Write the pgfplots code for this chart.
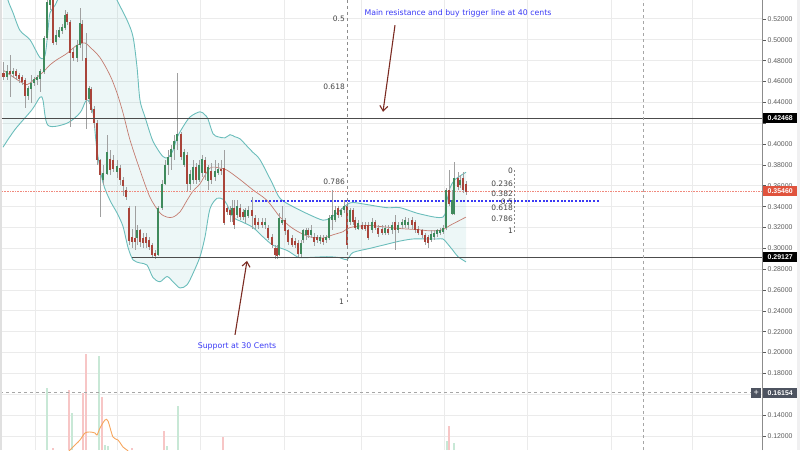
\documentclass[border=0pt]{standalone}
\usepackage{fontspec}
\setmainfont{DejaVu Sans}
\newfontfamily\arialf{Liberation Sans}
\usepackage{pgfplots}
\usepackage{pgfplotstable}
\pgfplotsset{compat=1.18}
\usepgfplotslibrary{fillbetween}
\usetikzlibrary{arrows.meta,decorations.markings}

\definecolor{upc}{HTML}{3F8A5C}
\definecolor{dnc}{HTML}{A9443A}
\definecolor{wick}{HTML}{A0A0A0}
\definecolor{band}{HTML}{6BBDBB}
\definecolor{ma}{HTML}{C47C70}
\definecolor{gridc}{HTML}{EBEBEB}
\definecolor{annot}{HTML}{3A3AF5}
\definecolor{arrowc}{HTML}{7B2B22}
\definecolor{volup}{HTML}{C8E8D6}
\definecolor{voldn}{HTML}{F7C6C6}
\definecolor{volma}{HTML}{F6A65E}
\definecolor{pricered}{HTML}{E0533D}
\definecolor{pricedot}{HTML}{F08A7E}
\definecolor{tickc}{HTML}{5A5A5A}
\definecolor{crossc}{HTML}{4D5360}
\definecolor{fibc}{HTML}{444444}

% candles: time (chart px), open, high, low, close
\pgfplotstableread{
x o h l c
3.5 .468 .479 .461 .464
7 .464 .476 .461 .470
10 .470 .485 .445 .467
13 .467 .473 .463 .470
16 .470 .472 .461 .465
19 .466 .468 .459 .462
22 .464 .466 .457 .460
25 .461 .463 .435 .446
28 .446 .456 .442 .454
31 .453 .466 .439 .459
34 .459 .464 .456 .462
37 .461 .466 .457 .464
40 .462 .472 .450 .470
44 .469 .504 .467 .502
47 .502 .543 .500 .536
50 .533 .548 .529 .538
53 .538 .546 .495 .497
56 .498 .509 .495 .505
59 .503 .512 .502 .509
62 .508 .515 .506 .512
65 .511 .529 .509 .524
67 .525 .527 .514 .517
70 .517 .519 .416 .487
73 .488 .492 .480 .483
77 .483 .500 .479 .495
80 .495 .531 .492 .516
82 .515 .519 .480 .497
86 .483 .507 .414 .442
89 .443 .456 .438 .454
91 .453 .455 .430 .433
94 .434 .437 .415 .420
97 .420 .423 .380 .385
100 .385 .386 .330 .370
103 .366 .380 .361 .372
107 .371 .409 .370 .392
110 .386 .394 .370 .375
113 .385 .390 .373 .376
117 .373 .385 .367 .379
120 .377 .380 .361 .366
123 .366 .368 .350 .360
126 .356 .359 .346 .349
129 .339 .341 .303 .307
132 .311 .319 .300 .306
135 .310 .341 .298 .306
137 .310 .322 .303 .318
140 .318 .319 .301 .306
143 .310 .315 .300 .305
146 .311 .315 .300 .305
149 .308 .311 .298 .301
152 .303 .305 .292 .294
155 .296 .298 .290 .293
158 .294 .341 .293 .339
162 .339 .366 .337 .362
165 .362 .385 .361 .380
168 .380 .394 .370 .388
171 .388 .399 .375 .395
174 .395 .409 .385 .403
177 .403 .468 .394 .410
181 .410 .412 .385 .388
184 .380 .395 .378 .392
187 .390 .392 .355 .362
190 .362 .375 .356 .371
193 .366 .385 .362 .378
196 .378 .382 .362 .366
199 .366 .385 .364 .380
202 .372 .390 .368 .386
205 .385 .388 .366 .372
208 .365 .380 .356 .378
211 .374 .382 .362 .366
215 .368 .385 .365 .374
218 .372 .382 .370 .376
221 .376 .385 .370 .375
224 .377 .394 .322 .324
227 .339 .341 .332 .335
230 .337 .341 .325 .332
232 .332 .346 .325 .339
234 .339 .346 .319 .322
237 .332 .346 .329 .341
240 .339 .343 .327 .330
243 .335 .338 .327 .330
245 .330 .339 .324 .337
248 .331 .341 .329 .337
252 .337 .349 .319 .331
255 .329 .332 .319 .322
258 .325 .329 .319 .322
262 .325 .329 .320 .322
265 .322 .329 .319 .325
268 .320 .322 .308 .310
272 .311 .314 .300 .303
275 .300 .303 .290 .294
277 .300 .303 .290 .293
279 .294 .334 .293 .329
282 .324 .341 .322 .327
285 .327 .329 .313 .317
288 .318 .319 .303 .306
292 .310 .313 .301 .303
295 .307 .310 .300 .303
298 .305 .308 .292 .295
301 .295 .308 .292 .305
303 .308 .319 .305 .318
306 .313 .320 .308 .318
308 .318 .320 .310 .313
311 .313 .322 .310 .318
314 .311 .315 .302 .306
317 .311 .313 .305 .308
320 .307 .313 .304 .311
323 .310 .313 .303 .306
326 .308 .313 .305 .311
329 .310 .332 .308 .329
332 .327 .356 .318 .332
335 .327 .341 .325 .337
338 .339 .341 .329 .332
341 .332 .339 .330 .337
344 .337 .346 .334 .341
347 .341 .344 .301 .303
350 .325 .339 .322 .337
353 .337 .339 .322 .325
355 .327 .330 .318 .320
358 .319 .327 .318 .324
362 .322 .325 .318 .319
365 .322 .325 .317 .319
368 .322 .325 .308 .310
372 .318 .329 .315 .325
375 .325 .327 .318 .320
378 .320 .322 .311 .314
382 .319 .322 .313 .315
385 .315 .322 .313 .320
388 .319 .322 .313 .315
392 .318 .325 .314 .322
395 .325 .332 .298 .318
398 .318 .325 .315 .322
402 .322 .328 .319 .325
405 .322 .330 .320 .327
408 .322 .329 .319 .325
412 .327 .330 .319 .322
415 .325 .327 .315 .318
418 .319 .321 .313 .315
422 .318 .319 .310 .313
425 .313 .315 .303 .306
428 .311 .313 .300 .305
431 .308 .318 .306 .314
434 .311 .318 .308 .315
437 .314 .319 .311 .318
440 .315 .320 .313 .318
443 .316 .322 .314 .320
446 .320 .358 .318 .356
449 .356 .375 .341 .343
452 .333 .356 .332 .346
454 .333 .383 .332 .367
458 .367 .373 .356 .359
460 .361 .370 .358 .366
463 .367 .373 .353 .356
466 .362 .365 .351 .354
}\candles

\pgfplotsset{
  candle/.style={draw=none, forget plot,
    error bars/y dir=both, error bars/y explicit, error bars/error mark=none},
}
\tikzset{
  fibl/.style={anchor=east, inner sep=0pt, text=fibc, font=\fontsize{7.5}{8}\selectfont},
  pbox/.style={anchor=west, inner sep=0pt, minimum width=35pt, minimum height=10pt,
    text=white, font=\arialf\bfseries\fontsize{6.9}{7}\selectfont},
  dotline/.style n args={3}{draw=none, postaction={decorate}, decoration={markings,
    mark=between positions 0 and 1 step #2 with {\fill[#1] (-#3,-#3) rectangle (#3,#3);}}},
}

\begin{document}
\begin{tikzpicture}
% volume panel (bars rise from the bottom edge)
\begin{axis}[at={(0pt,0pt)}, anchor=south west, scale only axis,
  width=762pt, height=450pt, xmin=0, xmax=762, ymin=0, ymax=450, hide axis]
\addplot[ycomb, draw=volup, line width=2.6pt, mark=none] coordinates
  {(47,62) (72,37) (99,94) (105,5) (108,4) (167,4) (178,44) (447,9) (454,7)};
\addplot[ycomb, draw=voldn, line width=2.6pt, mark=none] coordinates
  {(53,2) (69,60) (83,57) (86,96) (102,53) (132,2) (164,19) (223,13) (449,24)};
\addplot[volma, line width=0.9pt, smooth] coordinates
  {(66,-4) (70,0) (73,3) (80,10) (85,17) (90,18) (95,17) (97,15) (100,22) (105,30)
   (108,29) (113,13) (118,10) (123,3) (127,0) (131,-4)};
\end{axis}

\begin{axis}[at={(0pt,0pt)}, anchor=south west, scale only axis,
  width=762pt, height=450pt,
  xmin=0, xmax=762, ymin=0.1066, ymax=0.5382,
  clip mode=individual,
  axis line style={draw=none},
  xtick={35,117,200,284,361,444,527,611,692}, xticklabels={},
  xtick pos=bottom, major x tick style={draw=none},
  ytick={0.12,0.14,0.18,0.20,0.22,0.24,0.26,0.28,0.30,0.32,0.34,0.36,0.38,0.40,0.44,0.46,0.48,0.50,0.52},
  extra y ticks={0.16,0.42}, extra y tick labels={},
  ytick pos=right, yticklabel pos=right,
  tick align=outside, major tick length=3.5pt,
  major y tick style={tickc, line width=0.6pt},
  scaled y ticks=false,
  yticklabel style={font=\arialf\fontsize{6.9}{7}\selectfont, text=tickc, xshift=-1.5pt,
    /pgf/number format/.cd, fixed, fixed zerofill, precision=5, assume math mode=true},
  xmajorgrids, ymajorgrids,
  grid style={gridc, line width=1pt},
  extra tick style={grid style={gridc, line width=1pt}},
]
% Bollinger bands
\addplot[name path=up, band, line width=0.9pt, smooth] coordinates {
 (3,.557) (8,.538) (13,.526) (20,.509) (30,.500) (40,.483) (45,.485) (48,.509) (50,.526)
 (55,.533) (60,.543) (70,.557) (90,.562) (110,.553) (117,.538) (127,.519) (133,.503)
 (137,.474) (140,.442) (145,.426) (152,.405) (157,.396) (163,.388) (168,.387) (173,.394)
 (177,.406) (182,.415) (190,.426) (200,.431) (205,.428) (208,.424) (213,.410) (218,.407)
 (225,.406) (230,.409) (235,.407) (240,.405) (248,.397) (253,.392) (260,.385) (272,.363)
 (280,.348) (293,.340) (310,.332) (323,.327) (330,.329) (337,.334) (347,.342) (353,.344)
 (367,.342) (387,.339) (400,.339) (420,.333) (443,.330) (447,.346) (450,.358) (455,.366)
 (466,.373)};
\addplot[name path=lo, band, line width=0.9pt, smooth] coordinates {
 (3,.397) (15,.414) (32,.433) (40,.445) (43,.442) (48,.418) (67,.420) (80,.430) (85,.440)
 (88,.442) (93,.430) (97,.394) (103,.363) (110,.346) (117,.334) (123,.321) (128,.301)
 (133,.289) (140,.286) (147,.284) (153,.272) (160,.268) (167,.273) (173,.268) (180,.262)
 (187,.265) (193,.276) (200,.292) (205,.311) (210,.338) (217,.348) (223,.347) (227,.342)
 (233,.330) (243,.325) (253,.320) (263,.311) (273,.303) (287,.298) (297,.292) (303,.291)
 (327,.292) (340,.291) (347,.289) (353,.296) (370,.300) (387,.304) (400,.307) (413,.309)
 (427,.309) (437,.309) (443,.309) (447,.305) (453,.298) (458,.292) (466,.287)};
\addplot[band, fill opacity=0.12, draw=none] fill between[of=up and lo];
\addplot[ma, line width=0.7pt, smooth] coordinates {
 (3,.471) (20,.460) (27,.457) (33,.461) (43,.469) (50,.476) (57,.481) (67,.487) (77,.495)
 (85,.497) (90,.493) (100,.483) (110,.466) (117,.449) (123,.430) (130,.404) (140,.375)
 (150,.349) (160,.334) (167,.330) (173,.330) (180,.335) (187,.346) (193,.355) (200,.362)
 (210,.377) (220,.377) (227,.375) (240,.366) (253,.356) (267,.346) (280,.330) (290,.321)
 (300,.315) (310,.311) (323,.310) (333,.313) (343,.316) (350,.320) (367,.322) (380,.321)
 (400,.319) (417,.318) (427,.317) (437,.317) (443,.318) (450,.322) (458,.326) (466,.330)};

% price line and the blue trigger line, drawn as rows of dots
\addplot[dotline={pricedot}{2.6pt}{0.75pt}, forget plot] coordinates {(0,0.3546) (762,0.3546)};
\addplot[dotline={annot}{3.6pt}{1pt}, forget plot] coordinates {(252,0.3450) (600,0.3450)};

% candles: wicks, then bodies
\addplot[candle, error bars/error bar style={draw=wick, line width=0.8pt}]
  table[x=x, y expr={(\thisrow{h}+\thisrow{l})/2}, y error expr={(\thisrow{h}-\thisrow{l})/2}] {\candles};
\addplot[candle, restrict expr to domain={\thisrow{c}-\thisrow{o}}{0:1},
  error bars/error bar style={draw=upc, line width=2.3pt}]
  table[x=x, y expr={(\thisrow{o}+\thisrow{c})/2}, y error expr={abs(\thisrow{c}-\thisrow{o})/2}] {\candles};
\addplot[candle, restrict expr to domain={\thisrow{c}-\thisrow{o}}{-1:0},
  error bars/error bar style={draw=dnc, line width=2.3pt}]
  table[x=x, y expr={(\thisrow{o}+\thisrow{c})/2}, y error expr={abs(\thisrow{c}-\thisrow{o})/2}] {\candles};

% level lines
\draw[draw=black!70, line width=1.1pt] (axis cs:0,0.42468) -- (axis cs:762,0.42468);
\draw[draw=black!70, line width=1.1pt] (axis cs:132,0.29127) -- (axis cs:762,0.29127);
% crosshair
\draw[draw=black!35, line width=0.8pt, dash pattern=on 3pt off 3pt] (axis cs:643,0.1066) -- (axis cs:643,0.5382);
\draw[draw=black!35, line width=0.8pt, dash pattern=on 3pt off 3pt] (axis cs:0,0.16154) -- (axis cs:751,0.16154);
% fibonacci tools
\draw[draw=black!45, line width=0.7pt, dash pattern=on 3pt off 3pt] (axis cs:347,0.5382) -- (axis cs:347,0.249);
\draw[draw=black!45, line width=0.7pt, dash pattern=on 2pt off 2pt] (axis cs:514,0.375) -- (axis cs:514,0.316);
\node[fibl] at (axis cs:345,0.520) {0.5};
\node[fibl] at (axis cs:345,0.455) {0.618};
\node[fibl] at (axis cs:345,0.364) {0.786};
\node[fibl] at (axis cs:344,0.249) {1};
\node[fibl] at (axis cs:513,0.374) {0};
\node[fibl] at (axis cs:513,0.362) {0.236};
\node[fibl] at (axis cs:513,0.352) {0.382};
\node[fibl] at (axis cs:513,0.345) {0.5};
\node[fibl] at (axis cs:513,0.339) {0.618};
\node[fibl] at (axis cs:513,0.328) {0.786};
\node[fibl] at (axis cs:513,0.317) {1};
% annotations
\node[text=annot, inner sep=0pt, font=\fontsize{7.8}{9}\selectfont] at (axis cs:458,0.525)
  {Main resistance and buy trigger line at 40 cents};
\node[text=annot, inner sep=0pt, font=\fontsize{7.8}{9}\selectfont] at (axis cs:237,0.206)
  {Support at 30 Cents};
\draw[draw=arrowc, line width=1.1pt, -{Straight Barb[length=5pt, width=8pt]}]
  (axis cs:395,0.514) -- (axis cs:383,0.431);
\draw[draw=arrowc, line width=1.1pt, -{Straight Barb[length=5pt, width=8pt]}]
  (axis cs:235,0.217) -- (axis cs:247,0.288);
% price scale boxes
\draw[draw=black!45, line width=0.8pt] (axis cs:762,0.1066) -- (axis cs:762,0.5382);
\node[pbox, fill=black] at (axis cs:762.5,0.42468) {0.42468};
\node[pbox, fill=pricered] at (axis cs:762.5,0.3546) {0.35460};
\node[pbox, fill=black] at (axis cs:762.5,0.29127) {0.29127};
\node[pbox, fill=crossc] at (axis cs:762.5,0.16154) {0.16154};
\node[anchor=west, inner sep=0pt, minimum width=10pt, minimum height=10pt, fill=crossc,
  text=white, font=\arialf\fontsize{9}{9}\selectfont] at (axis cs:751,0.16154) {+};
\end{axis}
\fill[black!12] (0pt,0pt) rectangle (1.5pt,450pt);
\fill[blue!8!black!6] (797pt,0pt) rectangle (800pt,450pt);
\pgfresetboundingbox
\useasboundingbox (0pt,0pt) rectangle (800pt,450pt);
\end{tikzpicture}
\end{document}
